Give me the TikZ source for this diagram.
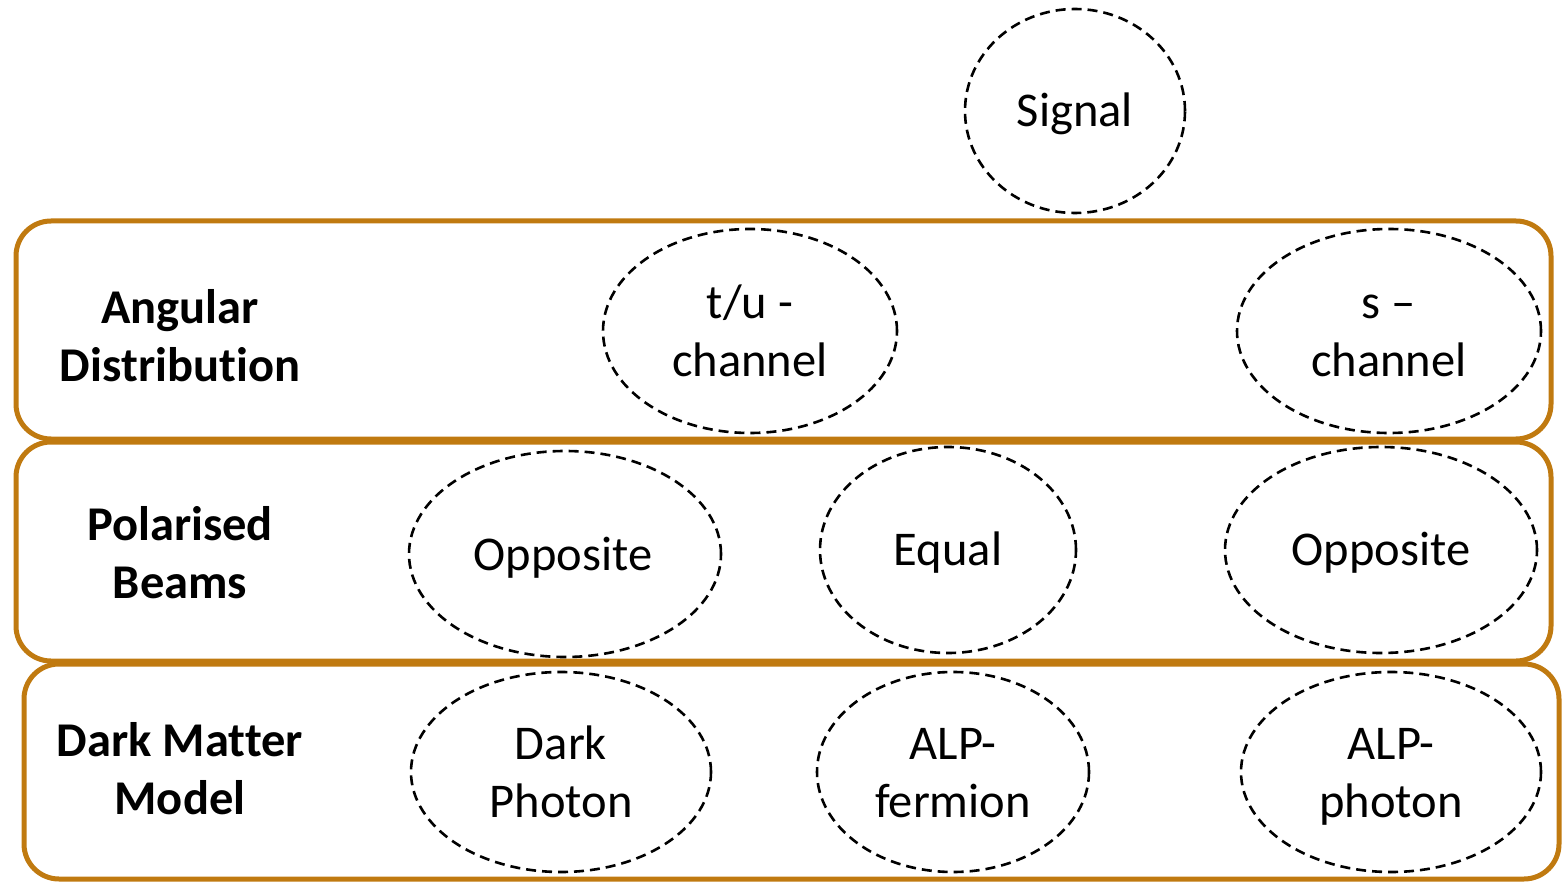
\documentclass[tikz,border=0pt]{standalone}
\usepackage{fontspec}
\setmainfont{Carlito}[Ligatures=NoCommon]
\usetikzlibrary{shapes.geometric}
\definecolor{gold}{RGB}{192,122,16}
\tikzset{
  band/.style={draw=gold, line width=5pt, rounded corners=35pt},
  oval/.style={draw=black, ellipse, dash pattern=on 10pt off 6pt, line width=2.6pt, inner sep=0pt},
  otext/.style={align=center, inner sep=0pt, font=\fontsize{48.5}{58}\selectfont},
  rowlabel/.style={align=center, inner sep=0pt, font=\fontsize{48.5}{58}\selectfont\bfseries},
}
\begin{document}
\begin{tikzpicture}[x=1pt,y=-1pt]
\useasboundingbox (0,0) rectangle (1563,882);
\draw[band] (16,221) rectangle (1551,439);
\draw[band] (16,442) rectangle (1551,661);
\draw[band] (24,664) rectangle (1559,879);

\node[rowlabel] (l1) at (180,341) {\strut Angular\\\strut Distribution};
\node[rowlabel] (l2) at (180,557.7) {\strut Polarised\\\strut Beams};
\node[rowlabel] (l3) at (180,773.7) {\strut Dark Matter\\\strut Model};

\node[oval, minimum width=220pt, minimum height=204pt] (sig) at (1075,111) {};
\node[oval, minimum width=294pt, minimum height=204pt] (tu) at (750,331) {};
\node[oval, minimum width=304pt, minimum height=204pt] (s) at (1389,331) {};
\node[oval, minimum width=312pt, minimum height=206pt] (op1) at (565,554) {};
\node[oval, minimum width=256pt, minimum height=206pt] (eq) at (948,550) {};
\node[oval, minimum width=312pt, minimum height=206pt] (op2) at (1381,550) {};
\node[oval, minimum width=300pt, minimum height=200pt] (dp) at (561,772) {};
\node[oval, minimum width=272pt, minimum height=200pt] (af) at (953,772) {};
\node[oval, minimum width=300pt, minimum height=200pt] (ap) at (1391,772) {};

\node[otext] (sigt) at (1075,115.4) {\strut Signal};
\node[otext] (tut) at (750,336) {\strut t/u -\\\strut channel};
\node[otext] (st) at (1389,336) {\strut s –\\\strut channel};
\node[otext] (op1t) at (563,558.7) {\strut Opposite};
\node[otext] (eqt) at (948,553.7) {\strut Equal};
\node[otext] (op2t) at (1381,554) {\strut Opposite};
\node[otext] (dpt) at (561,777) {\strut Dark\\\strut Photon};
\node[otext] (aft) at (953,777) {\strut ALP-\\\strut fermion};
\node[otext] (apt) at (1391,777) {\strut ALP-\\\strut photon};
\end{tikzpicture}
\end{document}
